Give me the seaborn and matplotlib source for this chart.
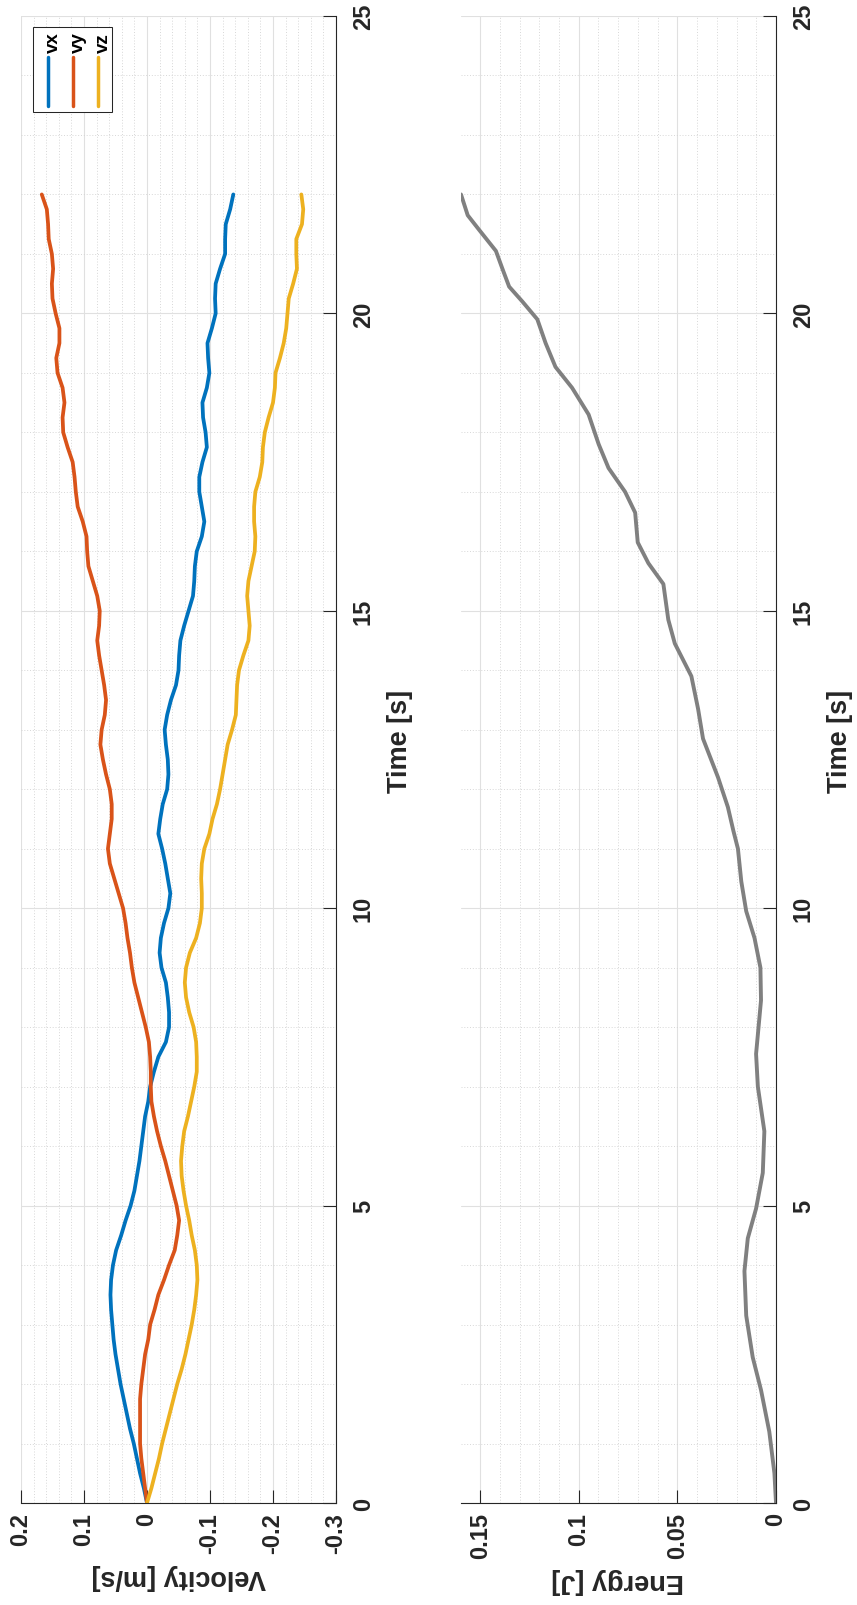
import matplotlib
matplotlib.use("Agg")
import matplotlib.pyplot as plt
from matplotlib.ticker import MultipleLocator, NullFormatter
from matplotlib.patches import Rectangle
from matplotlib.lines import Line2D
import pandas as pd
import seaborn as sns

# ---- velocity samples [s] / [m/s] ----
time_s = [0, 0.25, 0.5, 0.75, 1, 1.25, 1.5, 1.75, 2, 2.25, 2.5, 2.75, 3, 3.25, 3.5, 3.75,
          4, 4.25, 4.5, 4.75, 5, 5.25, 5.5,
          5.75, 6, 6.25, 6.5, 6.75, 7, 7.25, 7.5, 7.75, 8, 8.25, 8.5, 8.75,
          9, 9.25, 9.5, 9.75, 10, 10.25, 10.5, 10.75, 11, 11.25, 11.5, 11.75,
          12, 12.25, 12.5, 12.75, 13, 13.25, 13.5, 13.75, 14, 14.25, 14.5, 14.75,
          15, 15.25, 15.5, 15.75, 16, 16.25, 16.5, 16.75, 17, 17.25, 17.5, 17.75,
          18, 18.25, 18.5, 18.75, 19, 19.25, 19.5, 19.75, 20, 20.25, 20.5, 20.75,
          21, 21.25, 21.5, 21.75, 22]

vx = [0, 0.005, 0.011, 0.016, 0.021, 0.027, 0.032, 0.037, 0.042, 0.046, 0.050, 0.053, 0.055, 0.057,
      0.058, 0.057, 0.054, 0.049, 0.041, 0.034, 0.026, 0.020, 0.016,
      0.012, 0.009, 0.006, 0.003, -0.002, -0.005, -0.011, -0.018, -0.030, -0.035, -0.035, -0.033, -0.030,
      -0.023, -0.020, -0.022, -0.027, -0.034, -0.037, -0.033, -0.029, -0.024, -0.018, -0.021, -0.025,
      -0.032, -0.034, -0.033, -0.030, -0.028, -0.032, -0.038, -0.046, -0.050, -0.051, -0.053, -0.059,
      -0.066, -0.073, -0.075, -0.076, -0.079, -0.087, -0.091, -0.087, -0.083, -0.083, -0.088, -0.095,
      -0.093, -0.089, -0.088, -0.095, -0.099, -0.097, -0.096, -0.103, -0.109, -0.108, -0.109, -0.116,
      -0.124, -0.124, -0.125, -0.132, -0.137]

vy = [0, 0.003, 0.006, 0.009, 0.011, 0.011, 0.011, 0.011, 0.009, 0.006, 0.003, -0.002, -0.005, -0.012,
      -0.018, -0.027, -0.035, -0.044, -0.048, -0.051, -0.047, -0.041, -0.035,
      -0.029, -0.022, -0.016, -0.011, -0.007, -0.006, -0.006, -0.005, -0.003, 0.002, 0.008, 0.014, 0.020,
      0.024, 0.027, 0.031, 0.034, 0.038, 0.045, 0.052, 0.059, 0.062, 0.059, 0.056, 0.056,
      0.059, 0.065, 0.070, 0.074, 0.072, 0.067, 0.065, 0.068, 0.072, 0.076, 0.079, 0.076,
      0.075, 0.079, 0.086, 0.093, 0.095, 0.096, 0.102, 0.110, 0.113, 0.115, 0.118, 0.126,
      0.133, 0.134, 0.131, 0.134, 0.142, 0.144, 0.139, 0.139, 0.145, 0.150, 0.151, 0.149,
      0.151, 0.156, 0.157, 0.159, 0.167]

vz = [0, -0.007, -0.013, -0.019, -0.024, -0.030, -0.036, -0.042, -0.048, -0.055, -0.061, -0.066, -0.071,
      -0.075, -0.078, -0.080, -0.079, -0.076, -0.071, -0.067, -0.062, -0.058, -0.055,
      -0.054, -0.056, -0.059, -0.065, -0.070, -0.075, -0.079, -0.079, -0.078, -0.074, -0.067, -0.062, -0.060,
      -0.062, -0.068, -0.078, -0.084, -0.087, -0.087, -0.086, -0.087, -0.091, -0.099, -0.104, -0.111,
      -0.116, -0.120, -0.124, -0.128, -0.135, -0.141, -0.142, -0.143, -0.146, -0.153, -0.161, -0.163,
      -0.161, -0.159, -0.161, -0.166, -0.171, -0.172, -0.170, -0.170, -0.172, -0.179, -0.183, -0.184,
      -0.187, -0.193, -0.200, -0.203, -0.204, -0.211, -0.217, -0.221, -0.223, -0.225, -0.232, -0.238,
      -0.237, -0.237, -0.246, -0.248, -0.245]

# ---- energy samples [s] / [J] ----
energy_time_s = [0, 0.5, 1.2, 1.9, 2.45, 3.15, 3.9, 4.45, 4.95, 5.55, 6.25, 7.0, 7.55, 8.45,
                 9.0, 9.5, 9.95, 10.45, 11.0, 11.3, 11.7, 12.2, 12.85, 13.35, 13.9, 14.45,
                 14.85, 15.45, 15.8, 16.15, 16.65, 17.0, 17.4, 17.8, 18.3, 18.75, 19.1, 19.5,
                 19.9, 20.2, 20.45, 20.75, 21.05, 21.4, 21.65, 22.0]
energy_j = [0, 0.0008, 0.0034, 0.0076, 0.0118, 0.0151, 0.0160, 0.0143, 0.0101, 0.0067, 0.0059,
            0.0092, 0.0101, 0.0076, 0.0079, 0.0109, 0.0151, 0.0176, 0.0193, 0.0216, 0.0244,
            0.0294, 0.0370, 0.0395, 0.0429, 0.0513, 0.0546, 0.0571, 0.0647, 0.0701, 0.0714,
            0.0765, 0.0849, 0.0899, 0.0950, 0.1034, 0.1118, 0.1168, 0.1210, 0.1286, 0.1353,
            0.1387, 0.1420, 0.1504, 0.1563, 0.1597]

series_names = ["vx", "vy", "vz"]
series_colors = ["#0072BD", "#D95319", "#EDB120"]
energy_color = "#808080"

time_ticks = [0, 5, 10, 15, 20, 25]
time_tick_labels = ["0", "5", "10", "15", "20", "25"]
velocity_ticks = [0.2, 0.1, 0, -0.1, -0.2, -0.3]
velocity_tick_labels = ["0.2", "0.1", "0", "-0.1", "-0.2", "-0.3"]
energy_ticks = [0.15, 0.1, 0.05, 0]
energy_tick_labels = ["0.15", "0.1", "0.05", "0"]

sns.set_style("white")
plt.rcParams["font.family"] = ["Liberation Sans", "DejaVu Sans"]
plt.rcParams["font.weight"] = "bold"

INK = "#262626"
W, H = 857, 1606
fig = plt.figure(figsize=(W / 100, H / 100), dpi=100)
fig.patch.set_facecolor("white")


def px_axes(x0, y0, x1, y1):
    return fig.add_axes([x0 / W, (H - y1) / H, (x1 - x0) / W, (y1 - y0) / H])


ax_v = px_axes(21, 17, 336, 1504)
ax_e = px_axes(461, 17, 776, 1504)

# velocity components, time running up the page
n = len(time_s)
vel = pd.DataFrame({
    "time": time_s * 3,
    "velocity": vx + vy + vz,
    "component": [series_names[0]] * n + [series_names[1]] * n + [series_names[2]] * n,
})
sns.lineplot(data=vel, x="velocity", y="time", hue="component", hue_order=series_names,
             palette=series_colors, orient="y", estimator=None, sort=True,
             linewidth=2.7, legend=False, ax=ax_v,
             solid_joinstyle="round", solid_capstyle="round")

eng = pd.DataFrame({"time": energy_time_s, "energy": energy_j})
sns.lineplot(data=eng, x="energy", y="time", orient="y", estimator=None, sort=True,
             color=energy_color, linewidth=2.8, legend=False, ax=ax_e,
             solid_joinstyle="round", solid_capstyle="round")


def style_axes(ax, xlim, xticks, xlabels, xminor, xlabel, xlabel_xy, ylabel_xy):
    ax.set_axisbelow(True)
    ax.set_ylim(0, 25)
    ax.set_xlim(*xlim)
    ax.set_yticks(time_ticks, labels=time_tick_labels)
    ax.set_xticks(xticks, labels=xlabels)
    ax.yaxis.set_minor_locator(MultipleLocator(1))
    ax.xaxis.set_minor_locator(MultipleLocator(xminor))
    ax.xaxis.set_minor_formatter(NullFormatter())
    ax.yaxis.set_minor_formatter(NullFormatter())
    for side in ("top", "left"):
        ax.spines[side].set_visible(False)
    for side in ("bottom", "right"):
        ax.spines[side].set_color(INK)
        ax.spines[side].set_linewidth(0.8)
    ax.yaxis.tick_right()
    ax.tick_params(which="major", direction="in", length=9.5, width=0.8, color=INK,
                   labelsize=17, labelcolor=INK)
    ax.tick_params(which="minor", length=0)
    ax.tick_params(axis="x", which="major", pad=6.5, labelrotation=90, top=False, bottom=True)
    ax.tick_params(axis="y", which="major", pad=11.5, labelrotation=90, left=False, right=True,
                   labelleft=False, labelright=True)
    for lab in ax.get_xticklabels():
        lab.set_horizontalalignment("center")
        lab.set_verticalalignment("top")
        lab.set_fontweight("bold")
    for lab in ax.get_yticklabels():
        lab.set_horizontalalignment("left")
        lab.set_verticalalignment("center")
        lab.set_fontweight("bold")
    ax.grid(True, which="major", color="#e0e0e0", linewidth=0.8, linestyle="-")
    ax.grid(True, which="minor", color="#d2d2d2", linewidth=0.6, linestyle=(0, (1.2, 2.2)))

    ax.set_xlabel(xlabel, fontsize=19.5, fontweight="bold", color=INK, rotation=180)
    ax.xaxis.set_label_coords(*xlabel_xy)
    ax.xaxis.label.set_horizontalalignment("center")
    ax.xaxis.label.set_verticalalignment("center")
    ax.yaxis.set_label_position("right")
    ax.set_ylabel("Time [s]", fontsize=19.5, fontweight="bold", color=INK, rotation=90)
    ax.yaxis.set_label_coords(*ylabel_xy)
    ax.yaxis.label.set_horizontalalignment("center")
    ax.yaxis.label.set_verticalalignment("center")


style_axes(ax_v, (0.2, -0.3), velocity_ticks, velocity_tick_labels, 0.02,
           "Velocity [m/s]", (0.5016, -0.0491), (1.203, 0.513))
style_axes(ax_e, (max(energy_j), 0), energy_ticks, energy_tick_labels, 0.01,
           "Energy [J]", (0.4984, -0.0518), (1.203, 0.513))


# legend box in the upper-left corner of the velocity panel
def frac(px, py):
    return ((px - 21) / 315, (1504 - py) / 1487)


x0, y0 = frac(33, 113)
x1, y1 = frac(112, 28)
ax_v.add_patch(Rectangle((x0, y0), x1 - x0, y1 - y0, transform=ax_v.transAxes,
                         facecolor="white", edgecolor=INK, linewidth=0.75, zorder=5,
                         clip_on=False))
for i, (name, col) in enumerate(zip(series_names, series_colors)):
    lx = 48 + 25 * i
    (ax0, ay0), (ax1, ay1) = frac(lx, 107), frac(lx, 58)
    ax_v.add_line(Line2D([ax0, ax1], [ay0, ay1], transform=ax_v.transAxes, color=col,
                         linewidth=2.5, zorder=6, clip_on=False))
    tx, ty = frac(lx + 9.5, 53)
    ax_v.text(tx, ty, name, transform=ax_v.transAxes, rotation=90, rotation_mode="anchor",
              ha="left", va="baseline", fontsize=13.5, fontweight="bold", color="black",
              zorder=7)

fig.savefig("out.png", dpi=100, facecolor="white")
